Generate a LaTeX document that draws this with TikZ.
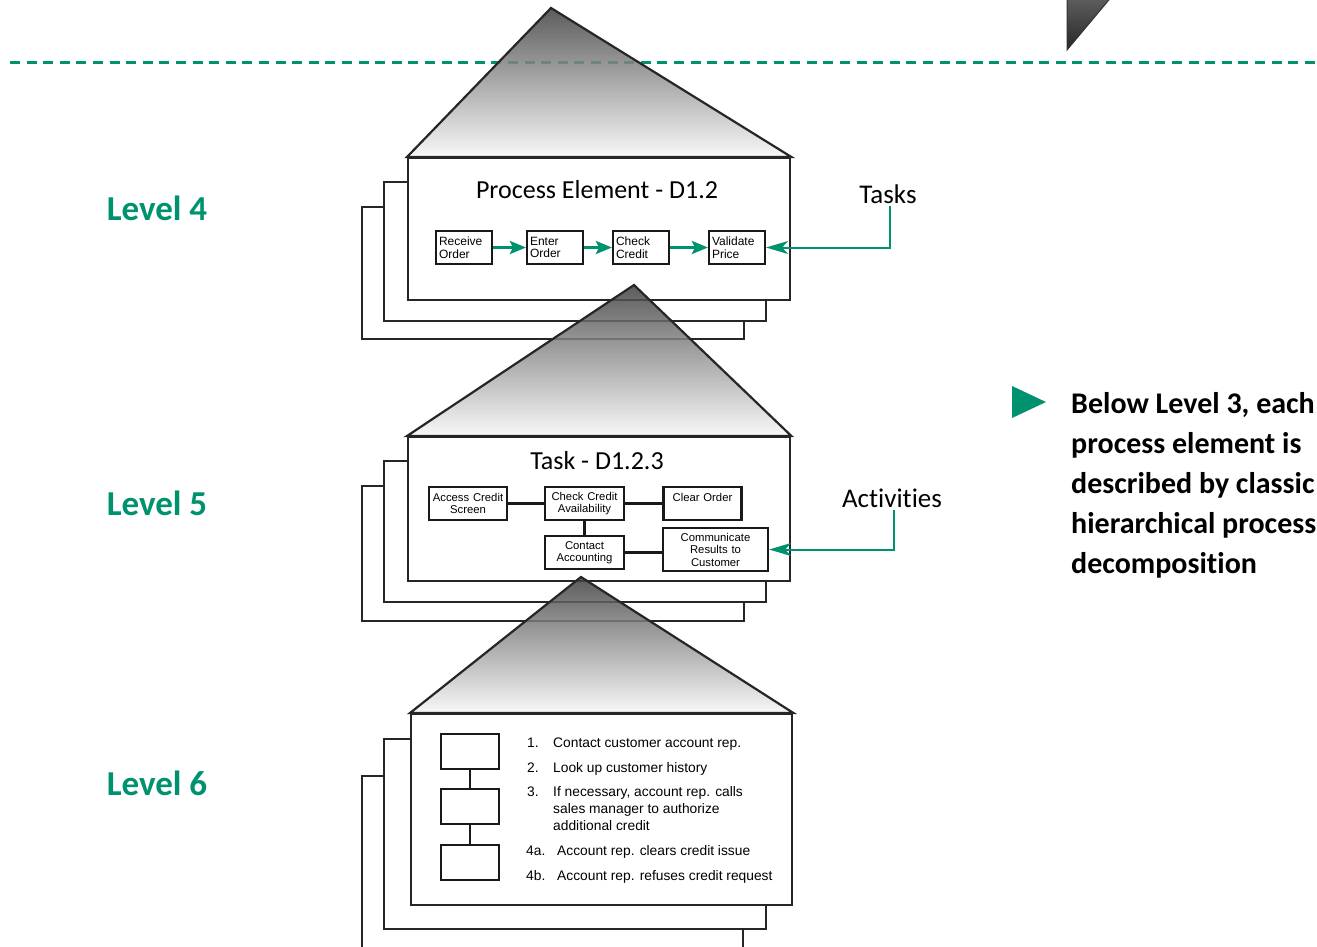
\documentclass[tikz,border=0pt]{standalone}
\usepackage{fontspec}
\setmainfont{Carlito}[Ligatures={NoCommon}]
\newfontfamily\boxfont{Liberation Sans}
\usetikzlibrary{arrows.meta}
\definecolor{scorgreen}{RGB}{0,146,110}

\begin{document}
\begin{tikzpicture}[x=1pt,y=-1pt,
    sheet/.style={draw=black!85, line width=2.4pt, fill=white, anchor=north west, inner sep=0pt},
    roof/.style={draw=black!85, line width=2.2pt, top color=black!75, bottom color=black!3, fill opacity=0.85},
    act/.style={draw=black!90, line width=2.2pt, fill=white, inner sep=3pt, minimum height=33pt, font=\boxfont\fontsize{12}{12.5}\selectfont},
    subact/.style={act, align=center, font=\boxfont\fontsize{11.3}{12.5}\selectfont},
    link/.style={draw=black!90, line width=2.2pt},
    flow/.style={scorgreen, line width=3pt, -{Stealth[length=16pt, width=13pt, inset=3pt]}},
    callout/.style={scorgreen, line width=2pt, -{Stealth[length=22pt, width=13pt, inset=6pt]}},
    divider/.style={scorgreen, line width=3pt, dash pattern=on 10pt off 6.6pt},
    lvl/.style={text=scorgreen, font=\bfseries\fontsize{35}{40}\selectfont},
    title/.style={font=\fontsize{26}{30}\selectfont},
    tag/.style={font=\fontsize{27}{30}\selectfont, inner sep=2pt},
    item/.style={anchor=base west, inner sep=0pt, font=\boxfont\fontsize{13.8}{17}\selectfont}]
\useasboundingbox (0,0) rectangle (1317,946);

\coordinate (dashL) at (10,62);
\coordinate (dashR) at (1317,62);
\draw[divider] (dashL) -- (dashR);
\path[draw=black!80, line width=1pt, top color=black!62, bottom color=black!85] (1067,-5) -- (1067,50) -- (1113,-5) -- cycle;

% level 4
\node[sheet, minimum width=382pt, minimum height=132pt] (l4c) at (361,206) {};
\node[sheet, minimum width=382pt, minimum height=139pt] (l4b) at (383,181) {};
\node[sheet, minimum width=382pt, minimum height=142pt] (l4a) at (407,157) {};
\coordinate (apex4) at (551,8);
\draw[roof] (l4a.north west) -- (apex4) -- (l4a.north east) -- cycle;
\node[title] (pe) at (597,190) {Process Element - D1.2};
\node[act, text width=50pt, align=left] (rcv) at (464,247.5) {Receive\\Order};
\node[act, text width=50pt, align=left] (ent) at (555,247.5) {Enter\\Order};
\node[act, text width=50pt, align=left] (chk) at (641,247.5) {Check\\Credit};
\node[act, text width=50pt, align=left] (val) at (737,247.5) {Validate\\Price};
\draw[flow] (rcv) -- (ent);
\draw[flow] (ent) -- (chk);
\draw[flow] (chk) -- (val);
\node[tag] (tasks) at (888,194) {Tasks};
\draw[callout] ([xshift=2pt]tasks.south) |- (val.east);
\node[lvl] (lv4) at (157,208) {Level 4};

% level 5
\node[sheet, minimum width=382pt, minimum height=135pt] (l5c) at (361,485) {};
\node[sheet, minimum width=382pt, minimum height=141pt] (l5b) at (383,460) {};
\node[sheet, minimum width=382pt, minimum height=144pt] (l5a) at (407,436) {};
\coordinate (apex5) at (634,285);
\draw[roof] (l5a.north west) -- (apex5) -- (l5a.north east) -- cycle;
\node[title] (tk) at (597,461) {Task - D1.2.3};
\node[subact, text width=72pt] (acs) at (468,503.5) {Access Credit\\Screen};
\node[subact, text width=73pt] (cca) at (584.5,503.5) {Check Credit\\Availability};
\node[subact, text width=72pt] (clr) at (702.5,503.5) {Clear Order\\\mbox{}};
\node[subact, text width=73pt] (cac) at (584.5,552.5) {Contact\\Accounting};
\node[subact, text width=99pt, minimum height=43pt] (com) at (715.5,549.5) {Communicate\\Results to\\Customer};
\draw[link] (acs) -- (cca);
\draw[link] (cca) -- (clr);
\draw[link] (cca) -- (cac);
\draw[link] (cac.east) -- (cac.east -| com.west);
\node[tag] (acts) at (892,498) {Activities};
\draw[callout] ([xshift=2pt]acts.south) |- (com.east);
\node[lvl] (lv5) at (157,503) {Level 5};

% level 6
\node[sheet, minimum width=381pt, minimum height=200pt] (l6c) at (361,775) {};
\node[sheet, minimum width=382pt, minimum height=190pt] (l6b) at (383,738) {};
\node[sheet, minimum width=381pt, minimum height=191pt] (l6a) at (410,713) {};
\coordinate (apex6) at (581,577);
\draw[roof] (l6a.north west) -- (apex6) -- (l6a.north east) -- cycle;
\node[act, minimum width=58pt, minimum height=35pt] (s1) at (470,751.5) {};
\node[act, minimum width=58pt, minimum height=35pt] (s2) at (470,806.5) {};
\node[act, minimum width=58pt, minimum height=35pt] (s3) at (470,862.5) {};
\draw[link] (s1) -- (s2);
\draw[link] (s2) -- (s3);
\node[item] (it1) at (527,747) {\makebox[26pt][l]{1.}Contact customer account rep.};
\node[item] (it2) at (527,772) {\makebox[26pt][l]{2.}Look up customer history};
\node[item] (it3) at (527,796) {\makebox[26pt][l]{3.}\parbox[t]{220pt}{If necessary, account rep. calls\\sales manager to authorize\\additional credit}};
\node[item] (it4a) at (526,855) {\makebox[31pt][l]{4a.}Account rep. clears credit issue};
\node[item] (it4b) at (526,880) {\makebox[31pt][l]{4b.}Account rep. refuses credit request};
\node[lvl] (lv6) at (157,783) {Level 6};

% note
\fill[scorgreen] (1012,386) -- (1046,402) -- (1012,418) -- cycle;
\node[anchor=north west, align=left, inner sep=0pt, font=\bfseries\fontsize{30}{40}\selectfont] (note) at (1071,392) {Below Level 3, each\\process element is\\described by classic\\hierarchical process\\decomposition};
\end{tikzpicture}
\end{document}
